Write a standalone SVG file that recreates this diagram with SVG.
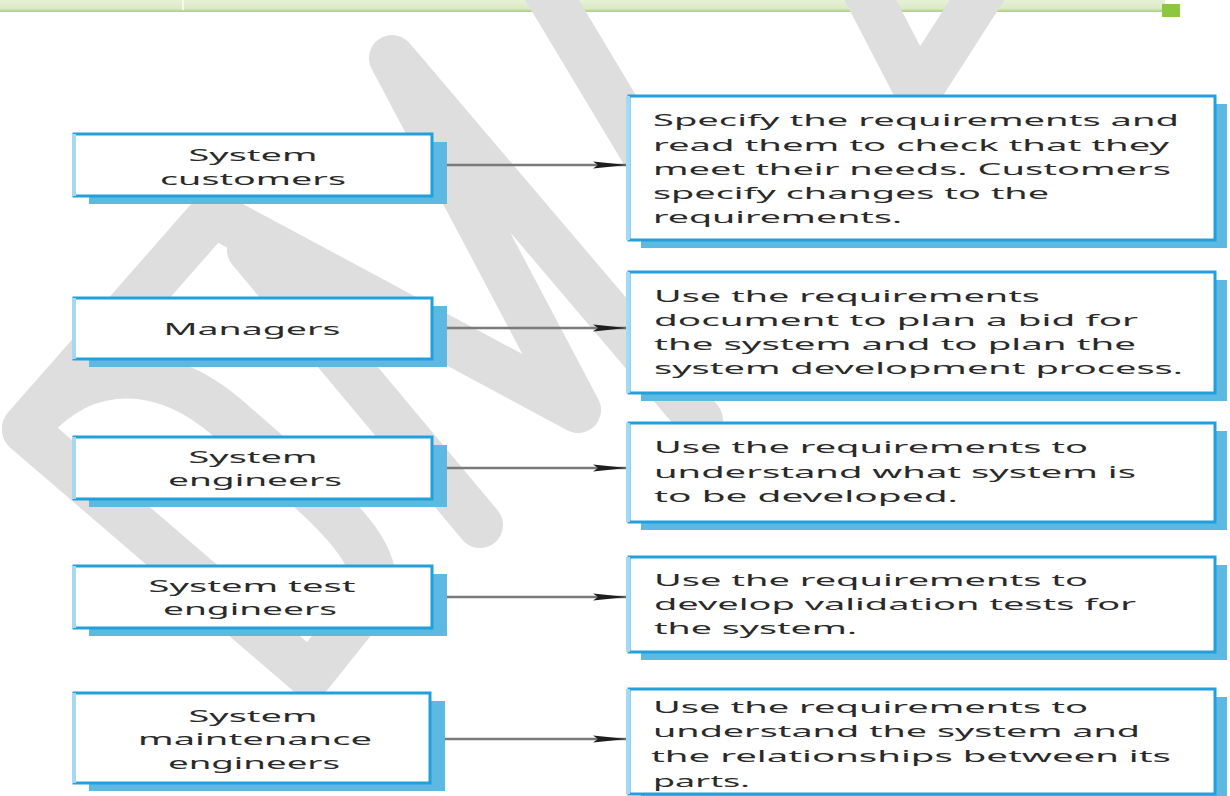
<svg xmlns="http://www.w3.org/2000/svg" width="1230" height="796" viewBox="0 0 1230 796">
<defs>
<linearGradient id="bar" x1="0" y1="0" x2="0" y2="1">
<stop offset="0" stop-color="#e6f1d6"/>
<stop offset="0.7" stop-color="#dcebc6"/>
<stop offset="1" stop-color="#a9cf78"/>
</linearGradient>
<marker id="ah" viewBox="0 0 34 10" refX="34" refY="5" markerWidth="34" markerHeight="10" markerUnits="userSpaceOnUse" orient="auto">
<path d="M0,1.5 L34,5 L0,8.5 L5,5 Z" fill="#1e1e1e"/>
</marker>
<style>
.wm{fill:none;stroke:#dedede;stroke-width:46;stroke-linecap:round;stroke-linejoin:round}
.sh{fill:#5cb9e2}
.bx{fill:#ffffff;stroke:#239fdb;stroke-width:3}
.edge{fill:#a3d9f2}
.lt{font-family:"Noto Sans","Liberation Sans",sans-serif;font-size:17px;fill:#2a2a2a;text-anchor:middle}
.rt{font-family:"Noto Sans","Liberation Sans",sans-serif;font-size:17px;fill:#2a2a2a}
.cn{stroke:#7a7a7a;stroke-width:2.5;fill:none}
</style>
</defs>
<rect x="0" y="0" width="1230" height="796" fill="#ffffff"/>
<g id="header">
<rect x="0" y="0" width="1165" height="12" fill="url(#bar)"/>
<rect x="182" y="0" width="2" height="10" fill="#f4f9ec"/>
<rect x="1162" y="4" width="18" height="13" fill="#8dc63f"/>
</g>
<g id="watermark">
<path class="wm" d="M25,428 L213,214 L578,410 L392,58 L700,420"/>
<path class="wm" d="M540,-20 L660,180"/>
<path class="wm" d="M860,-20 L918,92 L990,-20"/>
<path class="wm" d="M25,430 C70,370 150,350 230,420 C320,500 390,550 370,600 L310,675 Z"/>
<path class="wm" d="M250,250 L480,525"/>
</g>
<g id="connectors">
<line class="cn" x1="433" y1="165" x2="627" y2="165" marker-end="url(#ah)"/>
<line class="cn" x1="433" y1="328" x2="627" y2="328" marker-end="url(#ah)"/>
<line class="cn" x1="433" y1="468" x2="627" y2="468" marker-end="url(#ah)"/>
<line class="cn" x1="433" y1="597" x2="627" y2="597" marker-end="url(#ah)"/>
<line class="cn" x1="433" y1="739" x2="627" y2="739" marker-end="url(#ah)"/>
</g>
<g id="n-customers">
<rect class="sh" x="89" y="142" width="358" height="62"/>
<rect class="bx" x="74" y="134" width="358" height="62"/>
<rect class="edge" x="72" y="134" width="4" height="62"/>
<text class="lt" x="253" y="161" textLength="129" lengthAdjust="spacingAndGlyphs">System</text>
<text class="lt" x="253" y="185" textLength="186" lengthAdjust="spacingAndGlyphs">customers</text>
</g>
<g id="n-managers">
<rect class="sh" x="89" y="306" width="358" height="61"/>
<rect class="bx" x="74" y="298" width="358" height="61"/>
<rect class="edge" x="72" y="298" width="4" height="61"/>
<text class="lt" x="252" y="335" textLength="177" lengthAdjust="spacingAndGlyphs">Managers</text>
</g>
<g id="n-engineers">
<rect class="sh" x="89" y="445" width="358" height="62"/>
<rect class="bx" x="74" y="437" width="358" height="62"/>
<rect class="edge" x="72" y="437" width="4" height="62"/>
<text class="lt" x="253" y="463" textLength="129" lengthAdjust="spacingAndGlyphs">System</text>
<text class="lt" x="255" y="486" textLength="174" lengthAdjust="spacingAndGlyphs">engineers</text>
</g>
<g id="n-test">
<rect class="sh" x="89" y="574" width="358" height="62"/>
<rect class="bx" x="74" y="566" width="358" height="62"/>
<rect class="edge" x="72" y="566" width="4" height="62"/>
<text class="lt" x="252" y="592" textLength="207" lengthAdjust="spacingAndGlyphs">System test</text>
<text class="lt" x="250" y="615" textLength="174" lengthAdjust="spacingAndGlyphs">engineers</text>
</g>
<g id="n-maintenance">
<rect class="sh" x="89" y="701" width="356" height="90"/>
<rect class="bx" x="74" y="693" width="356" height="90"/>
<rect class="edge" x="72" y="693" width="4" height="90"/>
<text class="lt" x="253" y="722" textLength="129" lengthAdjust="spacingAndGlyphs">System</text>
<text class="lt" x="255" y="745" textLength="234" lengthAdjust="spacingAndGlyphs">maintenance</text>
<text class="lt" x="254" y="769" textLength="172" lengthAdjust="spacingAndGlyphs">engineers</text>
</g>
<g id="r-customers">
<rect class="sh" x="641" y="104" width="586" height="144"/>
<rect class="bx" x="629" y="96" width="586" height="144"/>
<rect class="edge" x="626" y="96" width="4" height="144"/>
<text class="rt" x="653" y="126" textLength="526" lengthAdjust="spacingAndGlyphs">Specify the requirements and</text>
<text class="rt" x="653" y="151" textLength="516" lengthAdjust="spacingAndGlyphs">read them to check that they</text>
<text class="rt" x="653" y="175" textLength="518" lengthAdjust="spacingAndGlyphs">meet their needs. Customers</text>
<text class="rt" x="653" y="199" textLength="396" lengthAdjust="spacingAndGlyphs">specify changes to the</text>
<text class="rt" x="653" y="223" textLength="249" lengthAdjust="spacingAndGlyphs">requirements.</text>
</g>
<g id="r-managers">
<rect class="sh" x="641" y="280" width="586" height="121"/>
<rect class="bx" x="629" y="272" width="586" height="121"/>
<rect class="edge" x="626" y="272" width="4" height="121"/>
<text class="rt" x="654" y="302" textLength="386" lengthAdjust="spacingAndGlyphs">Use the requirements</text>
<text class="rt" x="654" y="326" textLength="484" lengthAdjust="spacingAndGlyphs">document to plan a bid for</text>
<text class="rt" x="654" y="350" textLength="482" lengthAdjust="spacingAndGlyphs">the system and to plan the</text>
<text class="rt" x="654" y="374" textLength="529" lengthAdjust="spacingAndGlyphs">system development process.</text>
</g>
<g id="r-engineers">
<rect class="sh" x="641" y="431" width="586" height="99"/>
<rect class="bx" x="629" y="423" width="586" height="99"/>
<rect class="edge" x="626" y="423" width="4" height="99"/>
<text class="rt" x="654" y="453" textLength="434" lengthAdjust="spacingAndGlyphs">Use the requirements to</text>
<text class="rt" x="654" y="478" textLength="482" lengthAdjust="spacingAndGlyphs">understand what system is</text>
<text class="rt" x="654" y="502" textLength="304" lengthAdjust="spacingAndGlyphs">to be developed.</text>
</g>
<g id="r-test">
<rect class="sh" x="641" y="565" width="586" height="95"/>
<rect class="bx" x="629" y="557" width="586" height="95"/>
<rect class="edge" x="626" y="557" width="4" height="95"/>
<text class="rt" x="654" y="586" textLength="434" lengthAdjust="spacingAndGlyphs">Use the requirements to</text>
<text class="rt" x="654" y="610" textLength="482" lengthAdjust="spacingAndGlyphs">develop validation tests for</text>
<text class="rt" x="654" y="634" textLength="203" lengthAdjust="spacingAndGlyphs">the system.</text>
</g>
<g id="r-maintenance">
<rect class="sh" x="641" y="697" width="586" height="105"/>
<rect class="bx" x="629" y="689" width="586" height="105"/>
<rect class="edge" x="626" y="689" width="4" height="105"/>
<text class="rt" x="653" y="713" textLength="435" lengthAdjust="spacingAndGlyphs">Use the requirements to</text>
<text class="rt" x="653" y="737" textLength="487" lengthAdjust="spacingAndGlyphs">understand the system and</text>
<text class="rt" x="651" y="762" textLength="520" lengthAdjust="spacingAndGlyphs">the relationships between its</text>
<text class="rt" x="653" y="787" textLength="97" lengthAdjust="spacingAndGlyphs">parts.</text>
</g>
</svg>
